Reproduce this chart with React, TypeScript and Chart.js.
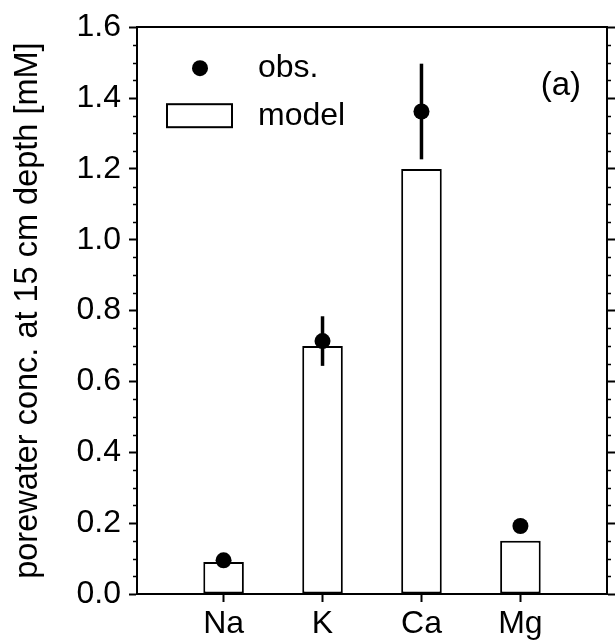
import React, { useEffect, useRef } from 'react';
import { Chart, registerables } from 'chart.js';

Chart.register(...registerables);

const elements = ['Na', 'K', 'Ca', 'Mg'];
const xPositions = [1, 2, 3, 4];
const modelValues = [0.09, 0.7, 1.2, 0.15];
const obsValues = [0.095, 0.714, 1.362, 0.192];
const obsErrors = [0, 0.07, 0.135, 0];
const yMajorTicks = [0, 0.2, 0.4, 0.6, 0.8, 1.0, 1.2, 1.4, 1.6];
const yMinorTicks = [0.05, 0.1, 0.15, 0.25, 0.3, 0.35, 0.45, 0.5, 0.55, 0.65, 0.7, 0.75, 0.85, 0.9, 0.95, 1.05, 1.1, 1.15, 1.25, 1.3, 1.35, 1.45, 1.5, 1.55];
const legendLabels = ['obs.', 'model'];
const panelLabel = '(a)';
const yTitle = 'porewater conc. at 15 cm depth [mM]';

const FONT_FAMILY = '"Liberation Sans", Arial, Helvetica, sans-serif';

const decorPlugin = {
  id: 'decor',
  afterDatasetsDraw(chart: any) {
    const { ctx, scales } = chart;
    const x = scales.x;
    const y = scales.y;
    ctx.save();
    ctx.strokeStyle = '#000';
    ctx.lineWidth = 3.5;
    obsValues.forEach((v, i) => {
      const e = obsErrors[i];
      if (!e) return;
      const px = x.getPixelForValue(xPositions[i]);
      ctx.beginPath();
      ctx.moveTo(px, y.getPixelForValue(v - e));
      ctx.lineTo(px, y.getPixelForValue(v + e));
      ctx.stroke();
    });
    ctx.restore();
  },
  afterDraw(chart: any) {
    const { ctx, chartArea, scales } = chart;
    const y = scales.y;
    ctx.save();
    // minor ticks
    ctx.strokeStyle = '#000';
    ctx.lineWidth = 1.5;
    yMinorTicks.forEach((v) => {
      const py = Math.round(y.getPixelForValue(v)) + 0.5;
      ctx.beginPath();
      ctx.moveTo(chartArea.left, py);
      ctx.lineTo(chartArea.left - 4, py);
      ctx.moveTo(chartArea.right, py);
      ctx.lineTo(chartArea.right + 4, py);
      ctx.stroke();
    });
    // legend
    const L = chartArea.left;
    const T = chartArea.top;
    ctx.fillStyle = '#000';
    ctx.beginPath();
    ctx.arc(L + 63, T + 41, 8, 0, Math.PI * 2);
    ctx.fill();
    ctx.fillStyle = '#fff';
    ctx.fillRect(L + 30, T + 77, 65, 23);
    ctx.lineWidth = 2;
    ctx.strokeRect(L + 30, T + 77, 65, 23);
    ctx.fillStyle = '#000';
    ctx.font = `32px ${FONT_FAMILY}`;
    ctx.textAlign = 'left';
    ctx.textBaseline = 'middle';
    ctx.fillText(legendLabels[0], L + 121, T + 41);
    ctx.fillText(legendLabels[1], L + 121, T + 89);
    // panel label
    ctx.font = `33px ${FONT_FAMILY}`;
    ctx.textAlign = 'right';
    ctx.fillText(panelLabel, chartArea.right - 26, T + 59);
    ctx.restore();
  },
};

export default function App() {
  const canvasRef = useRef<HTMLCanvasElement | null>(null);

  useEffect(() => {
    if (!canvasRef.current) return;
    const tickFont = { family: FONT_FAMILY, size: 32 };
    const chart = new Chart(canvasRef.current, {
      type: 'bar',
      data: {
        datasets: [
          {
            type: 'scatter',
            label: legendLabels[0],
            data: xPositions.map((xv, i) => ({ x: xv, y: obsValues[i] })),
            backgroundColor: '#000',
            borderColor: '#000',
            pointRadius: 8,
            pointBorderWidth: 0,
            showLine: false,
          } as any,
          {
            type: 'bar',
            label: legendLabels[1],
            data: xPositions.map((xv, i) => ({ x: xv, y: modelValues[i] })),
            backgroundColor: '#fff',
            borderColor: '#000',
            borderWidth: 2,
            borderSkipped: false,
            barPercentage: 0.41,
            categoryPercentage: 1,
          } as any,
        ],
      },
      options: {
        animation: false,
        responsive: true,
        maintainAspectRatio: false,
        layout: { padding: { top: 23, left: 0, right: 0, bottom: 0 } },
        plugins: {
          legend: { display: false },
          tooltip: { enabled: false },
        },
        scales: {
          x: {
            type: 'linear',
            position: 'bottom',
            min: 0.125,
            max: 4.875,
            offset: false,
            afterBuildTicks: (scale: any) => {
              scale.ticks = xPositions.map((v) => ({ value: v }));
            },
            afterFit: (scale: any) => {
              scale.height = 50;
            },
            ticks: {
              autoSkip: false,
              maxRotation: 0,
              color: '#000',
              font: tickFont,
              padding: 3,
              callback: (v: any) => {
                const idx = xPositions.indexOf(Number(v));
                return idx >= 0 ? elements[idx] : '';
              },
            },
            grid: {
              offset: false,
              drawOnChartArea: false,
              drawTicks: true,
              tickLength: 8,
              tickColor: '#000',
              tickWidth: 2,
            },
            border: { display: true, color: '#000', width: 2 },
          },
          x2: {
            type: 'linear',
            position: 'top',
            min: 0.125,
            max: 4.875,
            afterFit: (scale: any) => {
              scale.height = 0;
            },
            ticks: { display: false },
            grid: { drawOnChartArea: false, drawTicks: false },
            border: { display: true, color: '#000', width: 2 },
          },
          y: {
            type: 'linear',
            position: 'left',
            min: 0,
            max: 1.6,
            afterBuildTicks: (scale: any) => {
              scale.ticks = yMajorTicks.map((v) => ({ value: v }));
            },
            afterFit: (scale: any) => {
              scale.width = 137;
            },
            ticks: {
              color: '#000',
              font: tickFont,
              padding: 8,
              callback: (v: any) => Number(v).toFixed(1),
            },
            title: {
              display: true,
              text: yTitle,
              color: '#000',
              font: { family: FONT_FAMILY, size: 32.5 },
              padding: { top: 9, bottom: 0 },
            },
            grid: {
              drawOnChartArea: false,
              drawTicks: true,
              tickLength: 8,
              tickColor: '#000',
              tickWidth: 2,
            },
            border: { display: true, color: '#000', width: 2 },
          },
          y2: {
            type: 'linear',
            position: 'right',
            min: 0,
            max: 1.6,
            afterBuildTicks: (scale: any) => {
              scale.ticks = yMajorTicks.map((v) => ({ value: v }));
            },
            afterFit: (scale: any) => {
              scale.width = 6;
            },
            ticks: { display: false },
            grid: {
              drawOnChartArea: false,
              drawTicks: true,
              tickLength: 8,
              tickColor: '#000',
              tickWidth: 2,
            },
            border: { display: true, color: '#000', width: 2 },
          },
        },
      } as any,
      plugins: [decorPlugin],
    });
    return () => chart.destroy();
  }, []);

  return (
    <div style={{ position: 'absolute', left: 0, top: 0, width: 615, height: 644, background: '#fff' }}>
      <canvas ref={canvasRef} />
    </div>
  );
}
